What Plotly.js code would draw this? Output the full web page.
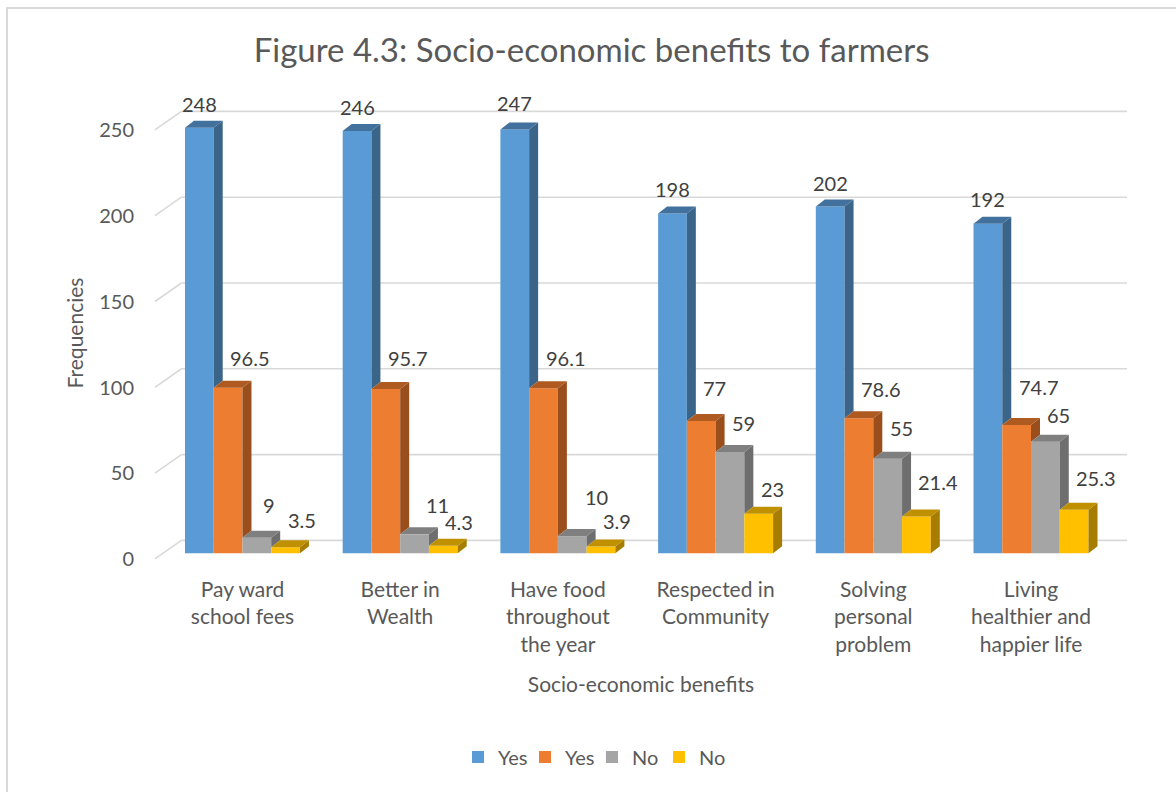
<!DOCTYPE html>
<html>
<head>
<meta charset="utf-8">
<script src="https://cdn.plot.ly/plotly-3.0.1.min.js"></script>
<style>
  html, body { margin: 0; padding: 0; background: #ffffff; }
  #frame { position: absolute; left: 6px; top: 7px; width: 1200px; height: 820px;
           border-left: 2px solid #d9d9d9; border-top: 2px solid #d9d9d9; }
  #chart { position: absolute; left: 0; top: 0; width: 1176px; height: 792px; }
</style>
</head>
<body>
<div id="frame"></div>
<div id="chart"></div>
<script>
// ---- data ----
const categories = [
  "Pay ward<br>school fees",
  "Better in<br>Wealth",
  "Have food<br>throughout<br>the year",
  "Respected in<br>Community",
  "Solving<br>personal<br>problem",
  "Living<br>healthier and<br>happier life"
];
const seriesNames = ["Yes", "Yes", "No", "No"];
const yes1 = [248, 246, 247, 198, 202, 192];
const yes2 = [96.5, 95.7, 96.1, 77, 78.6, 74.7];
const no1  = [9, 11, 10, 59, 55, 65];
const no2  = [3.5, 4.3, 3.9, 23, 21.4, 25.3];
const yTicks = [0, 50, 100, 150, 200, 250];

// ---- styles ----
const front = ["#5B9BD5", "#ED7D31", "#A5A5A5", "#FFC000"];
const topC  = ["#41719C", "#AE5A21", "#7F7F7F", "#BF9000"];
const sideC = ["#3A6488", "#9A4E1C", "#6E6E6E", "#A67D00"];
const labelAnchor = ["center", "left", "left", "left"];
// label nudges in pixels (style only)
const labelNudgeX = [
  [0, 0, 0, 0, 0, 0],
  [0, 0, 0, 0, 0, 0],
  [4, 9, 11, 0, 0, 0],
  [0, 0, 0, 0, 0, 0]
];
const labelNudgeY = [
  [24, 24, 26, 24, 24, 24.5],
  [30, 31, 30, 33, 29, 38],
  [33, 29, 39, 29, 31, 27],
  [27, 24, 26, 25, 35, 32]
];
const barW = 0.1823;      // width of one bar (category units)
const DX = 0.057;         // depth offset in x (category units)
const DY = 4.08;          // depth offset in y (value units)
const gridFrontX = -0.555, gridBackX = -0.387, gridEndX = 5.609;
const gridFrontDY = -3.3, gridBackDY = 7.5;
const FONT = "Lato, 'Open Sans', sans-serif";

const series = [yes1, yes2, no1, no2];
const xIdx = categories.map((c, i) => i);

const traces = series.map((vals, s) => ({
  type: "bar",
  name: seriesNames[s],
  x: xIdx,
  y: vals,
  width: barW,
  offset: -2 * barW + s * barW,
  marker: { color: front[s], line: { width: 0 } },
  hoverinfo: "y+name"
}));

const shapes = [];
// back wall + side wall gridlines
yTicks.forEach(t => {
  shapes.push({ type: "line", xref: "x", yref: "y", layer: "below",
    x0: gridFrontX, y0: t + gridFrontDY, x1: gridBackX, y1: t + gridBackDY,
    line: { color: "#d9d9d9", width: 1.6 } });
  shapes.push({ type: "line", xref: "x", yref: "y", layer: "below",
    x0: gridBackX, y0: t + gridBackDY, x1: gridEndX, y1: t + gridBackDY,
    line: { color: "#d9d9d9", width: 1.6 } });
});

// 3D faces for bars (computed from the data)
const annotations = [];
series.forEach((vals, s) => {
  vals.forEach((v, j) => {
    const xl = j - 2 * barW + s * barW;
    const xr = xl + barW;
    const next = s < series.length - 1 ? series[s + 1][j] : 0;
    const b = Math.min(next, v);
    shapes.push({ type: "path", xref: "x", yref: "y", layer: "above",
      path: `M ${xr},${b} L ${xr + DX},${b + DY} L ${xr + DX},${v + DY} L ${xr},${v} Z`,
      fillcolor: sideC[s], line: { width: 0 } });
    shapes.push({ type: "path", xref: "x", yref: "y", layer: "above",
      path: `M ${xl},${v} L ${xl + DX},${v + DY} L ${xr + DX},${v + DY} L ${xr},${v} Z`,
      fillcolor: topC[s], line: { width: 0 } });
    annotations.push({ x: xl + barW / 2, y: v, xref: "x", yref: "y",
      text: String(v), showarrow: false, xanchor: labelAnchor[s], yanchor: "middle",
      xshift: labelNudgeX[s][j], yshift: labelNudgeY[s][j],
      font: { family: FONT, size: 20, color: "#404040" } });
  });
});

const layout = {
  width: 1176, height: 792,
  margin: { l: 148, r: 42, t: 104, b: 230 },
  paper_bgcolor: "rgba(0,0,0,0)",
  plot_bgcolor: "rgba(0,0,0,0)",
  barmode: "overlay",
  font: { family: FONT, color: "#595959", size: 20 },
  title: { text: "Figure 4.3: Socio-economic benefits to farmers",
    font: { family: FONT, size: 33, color: "#595959" },
    x: 0.503, xanchor: "center", xref: "container",
    y: 1 - 50 / 792, yanchor: "middle", yref: "container" },
  xaxis: {
    range: [-0.599, 5.653], fixedrange: true,
    tickvals: xIdx, ticktext: categories,
    showgrid: false, zeroline: false, showline: false, ticks: "",
    ticklabelstandoff: 13,
    tickfont: { family: FONT, size: 21, color: "#595959" },
    title: { text: "Socio-economic benefits", standoff: 22,
      font: { family: FONT, size: 21, color: "#595959" } }
  },
  yaxis: {
    range: [-5.1, 261.8], fixedrange: true,
    tickvals: yTicks, ticktext: yTicks.map(String),
    showgrid: false, zeroline: false, showline: false, ticks: "",
    ticklabelstandoff: 13, ticklabelshift: 6,
    tickfont: { family: FONT, size: 20, color: "#595959" },
    title: { text: "Frequencies", standoff: 9,
      font: { family: FONT, size: 21, color: "#595959" } }
  },
  showlegend: true,
  legend: {
    orientation: "h", xref: "container", yref: "container",
    x: 592 / 1176, xanchor: "center", y: 1 - 757 / 792, yanchor: "middle",
    font: { family: FONT, size: 20, color: "#595959" }, itemwidth: 30,
    entrywidth: 22, entrywidthmode: "pixels", traceorder: "normal"
  },
  shapes: shapes,
  annotations: annotations
};

Plotly.newPlot("chart", traces, layout, { displayModeBar: false, staticPlot: true });
</script>
</body>
</html>
